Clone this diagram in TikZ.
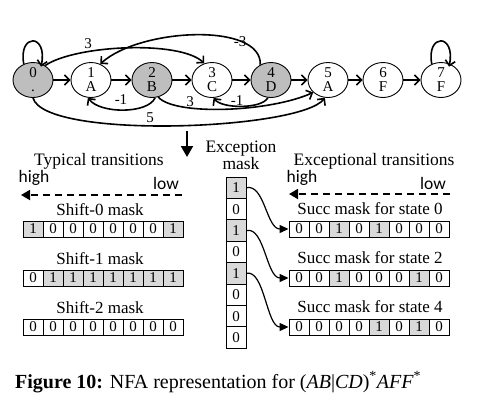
\documentclass[tikz,border=0pt]{standalone}
\usepackage{fontspec}
\setmainfont{Liberation Serif}
\newfontfamily\hlfont{Carlito}
\usetikzlibrary{arrows.meta,shapes.geometric}
\definecolor{stgray}{RGB}{190,190,190}
\definecolor{cellgray}{RGB}{217,217,217}
\begin{document}
\begin{tikzpicture}[x=1pt,y=-1pt,
  st/.style={ellipse,draw,line width=0.9pt,minimum width=40pt,minimum height=35pt,inner sep=0pt,align=center,font=\fontsize{15}{14}\selectfont},
  gst/.style={st,fill=stgray},
  edge/.style={line width=1.6pt,-{Straight Barb[length=5pt,width=10pt]}},
  elab/.style={inner sep=0pt,font=\fontsize{15}{15}\selectfont},
  cell/.style={draw,line width=0.9pt,minimum width=20pt,minimum height=16pt,inner sep=0pt,font=\fontsize{15}{15}\selectfont},
  ecell/.style={cell,minimum height=21.4pt},
  b0/.style={fill=white},
  b1/.style={fill=cellgray},
  head/.style={inner sep=0pt,font=\fontsize{17.5}{14.5}\selectfont,align=center},
  sub/.style={inner sep=0pt,font=\fontsize{17}{17}\selectfont},
  hl/.style={inner sep=0pt,font=\hlfont\fontsize{17.5}{17.5}\selectfont},
  dasharrow/.style={line width=1.8pt,dash pattern=on 7pt off 5pt,-{Triangle[length=9pt,width=10pt]}},
  earrow/.style={line width=1.2pt,-{Triangle[length=9pt,width=8pt]}},
]
\useasboundingbox (0,0) rectangle (484,416);

% NFA states
\node[gst] (s0) at (33,80) {0\\.};
\node[st]  (s1) at (91,80) {1\\A};
\node[gst] (s2) at (152,80) {2\\B};
\node[st]  (s3) at (212,80) {3\\C};
\node[gst] (s4) at (271,80) {4\\D};
\node[st]  (s5) at (328,80) {5\\A};
\node[st]  (s6) at (383,80) {6\\F};
\node[st]  (s7) at (441,80) {7\\F};

\foreach \a/\b in {0/1,1/2,2/3,3/4,4/5,5/6,6/7}
  \draw[edge] (s\a) -- (s\b);

% self loops
\draw[edge,shorten >=-3pt] (s0.120) .. controls (18,33) and (48,33) .. (s0.62);
\draw[edge,shorten >=-3pt] (s7.120) .. controls (426,33) and (456,33) .. (s7.62);

% curved transitions
\draw[edge] (s0.50) .. controls (75,45) and (180,40) .. (s3.115);
\draw[edge] (s4.125) .. controls (262,22) and (140,28) .. (s1.60);
\draw[edge] (s2.-80) .. controls (148,114) and (100,114) .. (s1.-100);
\draw[edge] (s4.-100) .. controls (262,109) and (222,109) .. (s3.-85);
\draw[edge] (s2.-70) .. controls (175,116) and (270,112) .. (s5.-140);
\draw[edge] (s0.-90) .. controls (45,140) and (300,130) .. (s5.-100);

\node[elab] (l03) at (88,44) {3};
\node[elab] (l41) at (240,42) {-3};
\node[elab] (l21) at (121,100) {-1};
\node[elab] (l43) at (237,101) {-1};
\node[elab] (l25) at (190,102) {3};
\node[elab] (l05) at (150,118) {5};

% big down arrow
\coordinate (da1) at (187,131);
\coordinate (da2) at (187,157);
\draw[line width=2pt,-{Triangle[length=11pt,width=12pt]}] (da1) -- (da2);

% headings
\node[head] (tt) at (99,161) {Typical transitions};
\node[head] (em) at (241,155) {Exception\\mask};
\node[head] (et) at (374,161) {Exceptional transitions};
\node[hl] (h1) at (34,178) {high};
\node[hl] (w1) at (166,183) {low};
\node[hl] (h2) at (302,178) {high};
\node[hl] (w2) at (433,183) {low};

\coordinate (d1s) at (182,195);
\coordinate (d1e) at (21,195);
\coordinate (d2s) at (450,194);
\coordinate (d2e) at (289,194);
\draw[dasharrow] (d1s) -- (d1e);
\draw[dasharrow] (d2s) -- (d2e);

% typical transition masks
\node[sub] (k0) at (100,210) {Shift-0 mask};
\node[sub] (k1) at (100,259) {Shift-1 mask};
\node[sub] (k2) at (100,308) {Shift-2 mask};
\foreach \v [count=\i] in {1,0,0,0,0,0,0,1}
  \node[cell,b\v] (ra\i) at ({13+20*\i},229) {\v};
\foreach \v [count=\i] in {0,1,1,1,1,1,1,1}
  \node[cell,b\v] (rb\i) at ({13+20*\i},278) {\v};
\foreach \v [count=\i] in {0,0,0,0,0,0,0,0}
  \node[cell,b\v] (rc\i) at ({13+20*\i},327) {\v};

% exceptional transition masks
\node[sub] (u0) at (370,209) {Succ mask for state 0};
\node[sub] (u2) at (370,258) {Succ mask for state 2};
\node[sub] (u4) at (370,307) {Succ mask for state 4};
\foreach \v [count=\i] in {0,0,1,0,1,0,0,0}
  \node[cell,b\v] (qa\i) at ({279+20*\i},229) {\v};
\foreach \v [count=\i] in {0,0,1,0,0,0,1,0}
  \node[cell,b\v] (qb\i) at ({279+20*\i},278) {\v};
\foreach \v [count=\i] in {0,0,0,0,1,0,1,0}
  \node[cell,b\v] (qc\i) at ({279+20*\i},327) {\v};

% exception mask
\foreach \v [count=\i] in {1,0,1,0,1,0,0,0}
  \node[ecell,b\v] (e\i) at (236,{166.3+21.4*\i}) {\v};

\draw[earrow] (e1.east) .. controls +(18,-4) and +(-22,0) .. (qa1.west);
\draw[earrow] (e3.east) .. controls +(18,-4) and +(-22,0) .. (qb1.west);
\draw[earrow] (e5.east) .. controls +(18,-4) and +(-22,0) .. (qc1.west);

% caption
\node[anchor=base west,inner sep=0pt,font=\fontsize{20}{20}\selectfont] (cap) at (15,388)
  {\textbf{Figure 10:} NFA representation for ({\itshape AB}|{\itshape CD})\textsuperscript{*}{\itshape AFF}\textsuperscript{*}};
\end{tikzpicture}
\end{document}
